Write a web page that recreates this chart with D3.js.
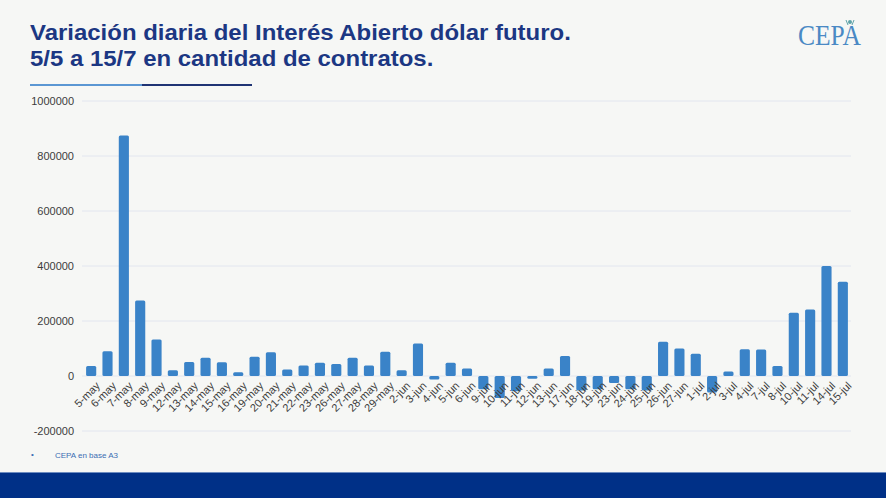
<!DOCTYPE html>
<html>
<head>
<meta charset="utf-8">
<script src="https://cdn.jsdelivr.net/npm/d3@7"></script>
<style>
  body { margin: 0; background: #f6f7f5; }
  svg { display: block; font-family: "Liberation Sans", Arial, sans-serif; }
</style>
</head>
<body>
<svg width="886" height="498"></svg>
<script>
// datos
var categories = ["5-may","6-may","7-may","8-may","9-may","12-may","13-may","14-may","15-may","16-may",
  "19-may","20-may","21-may","22-may","23-may","26-may","27-may","28-may","29-may",
  "2-jun","3-jun","4-jun","5-jun","6-jun","9-jun","10-jun","11-jun","12-jun","13-jun",
  "17-jun","18-jun","19-jun","23-jun","24-jun","25-jun","26-jun","27-jun",
  "1-jul","2-jul","3-jul","4-jul","7-jul","8-jul","10-jul","11-jul","14-jul","15-jul"];

var values = [36000, 90000, 875000, 275000, 133000, 21000, 51000, 66000, 50000, 14000,
  70000, 86000, 24000, 38000, 48000, 44000, 66000, 38000, 88000,
  21000, 118000, -13000, 48000, 27000, -48000, -80000, -55000, -10000, 27000,
  73000, -53000, -48000, -25000, -48000, -53000, 125000, 100000,
  81000, -60000, 16000, 97000, 96000, 36000, 230000, 242000, 400000, 343000];

var yTicks = [-200000, 0, 200000, 400000, 600000, 800000, 1000000];

var titleLines = ["Variación diaria del Interés Abierto dólar futuro.",
  "5/5 a 15/7 en cantidad de contratos."];
var source = "CEPA en base A3";

var svg = d3.select("svg"),
  width = +svg.attr("width"),
  height = +svg.attr("height");

// fondo
svg.append("rect").attr("width", width).attr("height", height).attr("fill", "#f6f7f5");

// TITULO (la captura original esta algo estirada en horizontal)
svg.append("g")
  .attr("transform", "translate(30,0) scale(1.115,1)")
  .selectAll("text")
  .data(titleLines)
  .enter().append("text")
  .attr("x", 0)
  .attr("y", (d, i) => 40 + i * 26)
  .attr("fill", "#1c3783")
  .attr("font-size", 21.5)
  .attr("font-weight", "bold")
  .text(d => d);

// linea bajo el titulo
svg.append("rect").attr("x", 30).attr("y", 84).attr("width", 112).attr("height", 2).attr("fill", "#5b97d3");
svg.append("rect").attr("x", 142).attr("y", 84).attr("width", 110).attr("height", 2).attr("fill", "#1f3474");

// logo
svg.append("g").attr("transform", "translate(798,45) scale(0.85,1)")
  .append("text")
  .attr("font-family", "Liberation Serif, DejaVu Serif, serif")
  .attr("font-size", 30)
  .attr("fill", "#4a89c4")
  .text("CEPA");
svg.append("circle").attr("cx", 850).attr("cy", 22).attr("r", 2).attr("fill", "#5fa3a8");
svg.append("path").attr("d", "M846,20 L848,25 M854,20 L852,25").attr("stroke", "#5fa3a8").attr("stroke-width", 1);

// ESCALAS
var x = d3.scaleBand()
  .domain(categories)
  .range([83, 851])
  .paddingInner(0.38)
  .paddingOuter(0.19);

var y = d3.scaleLinear()
  .domain([-200000, 1000000])
  .range([431, 101]);

// grilla
svg.append("g")
  .selectAll("line")
  .data(yTicks)
  .enter().append("line")
  .attr("x1", 82).attr("x2", 851)
  .attr("y1", d => y(d)).attr("y2", d => y(d))
  .attr("stroke", "#e2e6ef")
  .attr("stroke-width", 1);

// eje y
var yAxis = d3.axisLeft(y).tickValues(yTicks).tickSize(0).tickPadding(0).tickFormat(d => d);
svg.append("g")
  .attr("transform", "translate(74,0)")
  .call(yAxis)
  .call(g => g.select(".domain").remove())
  .selectAll("text")
  .attr("font-size", 11)
  .attr("font-family", "Liberation Sans, Arial, sans-serif")
  .attr("fill", "#3c3c3c");

// BARRAS
svg.append("g")
  .selectAll("rect")
  .data(values)
  .enter().append("rect")
  .attr("x", (d, i) => x(categories[i]))
  .attr("width", x.bandwidth())
  .attr("y", d => y(Math.max(0, d)))
  .attr("height", d => Math.max(1.5, Math.abs(y(d) - y(0))))
  .attr("rx", 1.5)
  .attr("fill", "#3a83c8");

// eje x
var xAxis = d3.axisBottom(x).tickSize(0).tickPadding(0);
svg.append("g")
  .attr("transform", "translate(0,381)")
  .call(xAxis)
  .call(g => g.select(".domain").remove())
  .selectAll("text")
  .attr("font-size", 11)
  .attr("font-family", "Liberation Sans, Arial, sans-serif")
  .attr("fill", "#3c3c3c")
  .attr("text-anchor", "end")
  .attr("dy", "0.7em")
  .attr("transform", "translate(4,0) rotate(-45)");

// fuente
svg.append("text").attr("x", 31).attr("y", 457).attr("font-size", 8).attr("fill", "#3b6db3").text("•");
svg.append("text").attr("x", 55).attr("y", 458).attr("font-size", 8).attr("fill", "#3b6db3").text(source);

// banda inferior
svg.append("rect").attr("x", 0).attr("y", 472).attr("width", width).attr("height", 1).attr("fill", "#6d8cc0");
svg.append("rect").attr("x", 0).attr("y", 473).attr("width", width).attr("height", 25).attr("fill", "#003087");
</script>
</body>
</html>
